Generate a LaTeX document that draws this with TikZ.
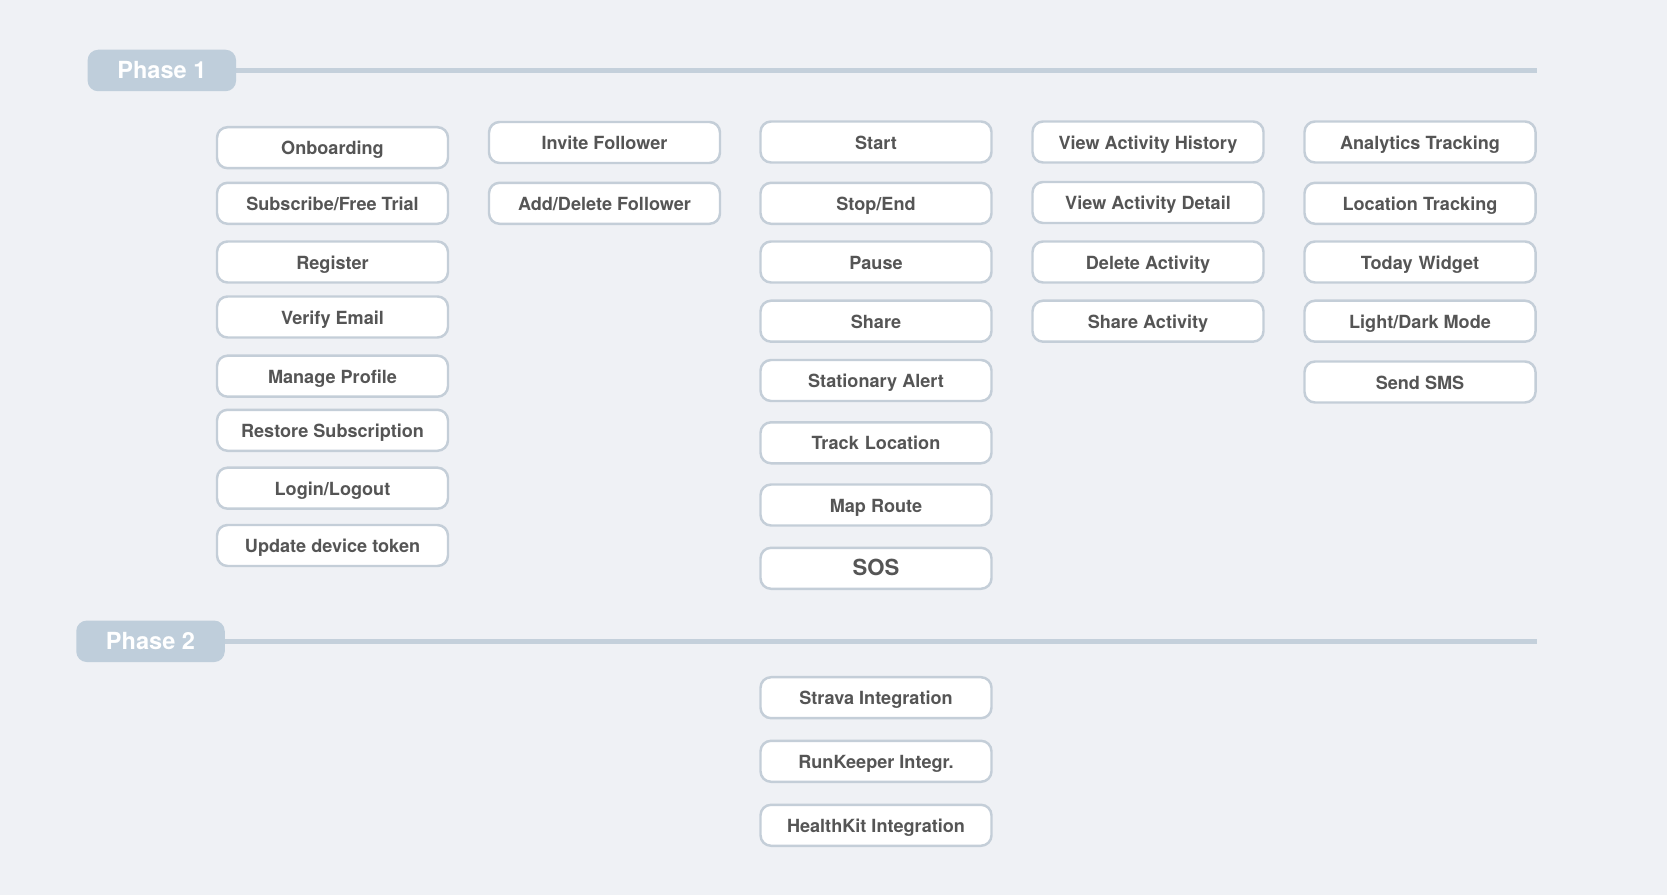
\documentclass[tikz,border=0pt]{standalone}
\usepackage{fontspec}
\setmainfont{TeX Gyre Heros}
\usepackage{xcolor}
\usetikzlibrary{positioning}
\definecolor{PageBg}{HTML}{EFF1F5}
\definecolor{PhaseFill}{HTML}{BFCEDB}
\definecolor{PhaseRule}{HTML}{C4D0DB}
\definecolor{BoxEdge}{HTML}{C4CED8}
\definecolor{BoxText}{HTML}{555555}
\tikzset{
  featbox/.style={rounded corners=6pt,draw=BoxEdge,line width=1.4pt,fill=white,minimum width=4.62cm,minimum height=0.82cm,inner sep=0pt,text height=0.8em,text depth=0pt,text=BoxText,font=\fontsize{10.3}{12}\selectfont\bfseries},
  phasetag/.style={rounded corners=6pt,fill=PhaseFill,minimum width=2.97cm,minimum height=0.83cm,inner sep=0pt,text height=0.88em,text depth=0pt,text=white,font=\fontsize{13.4}{15}\selectfont\bfseries},
  phaserule/.style={draw=PhaseRule,line width=2.8pt}
}
\newcommand{\featbox}[3]{\node[featbox] (#1) at (#2) {#3};}

\begin{document}
\begin{tikzpicture}[x=1cm,y=1cm]
  \fill[PageBg] (0,0) rectangle (33.34,17.9);
  \useasboundingbox (0,0) rectangle (33.34,17.9);
  % phase headers
  \coordinate (ruleendA) at (30.73,16.49);
  \coordinate (ruleendB) at (30.73,5.066);
  \draw[phaserule] (3.237,16.49) -- (ruleendA);
  \draw[phaserule] (3.01,5.066) -- (ruleendB);
  \node[phasetag] (phaseA) at (3.237,16.49) {Phase 1};
  \node[phasetag] (phaseB) at (3.01,5.074) {Phase 2};
  % account
  \featbox{onboard}{6.65,14.946}{Onboarding}
  \featbox{subscribe}{6.65,13.834}{Subscribe/Free Trial}
  \featbox{register}{6.65,12.66}{Register}
  \featbox{verify}{6.65,11.56}{Verify Email}
  \featbox{profile}{6.65,10.376}{Manage Profile}
  \featbox{restore}{6.65,9.294}{Restore Subscription}
  \featbox{login}{6.65,8.136}{Login/Logout}
  \featbox{token}{6.65,6.99}{Update device token}
  % followers
  \featbox{invite}{12.09,15.05}{Invite Follower}
  \featbox{follower}{12.09,13.834}{Add/Delete Follower}
  % activity
  \featbox{start}{17.52,15.06}{Start}
  \featbox{stop}{17.52,13.834}{Stop/End}
  \featbox{pause}{17.52,12.66}{Pause}
  \featbox{share}{17.52,11.476}{Share}
  \featbox{stationary}{17.52,10.29}{Stationary Alert}
  \featbox{track}{17.52,9.044}{Track\,\,Location}
  \featbox{route}{17.52,7.8}{Map Route}
  \node[featbox,font=\fontsize{12.6}{14}\selectfont\bfseries] (sos) at (17.52,6.534) {SOS};
  % history
  \featbox{history}{22.96,15.06}{View Activity History}
  \featbox{detail}{22.96,13.85}{View Activity Detail}
  \featbox{delete}{22.96,12.66}{Delete Activity}
  \featbox{shareact}{22.96,11.476}{Share Activity}
  % app
  \featbox{analytics}{28.40,15.06}{Analytics Tracking}
  \featbox{location}{28.40,13.834}{Location Tracking}
  \featbox{widget}{28.40,12.66}{Today\,\,Widget}
  \featbox{mode}{28.40,11.476}{Light/Dark Mode}
  \featbox{sms}{28.40,10.26}{Send SMS}
  % phase 2
  \featbox{strava}{17.52,3.946}{Strava Integration}
  \featbox{runkeeper}{17.52,2.674}{RunKeeper Integr.}
  \featbox{healthkit}{17.52,1.394}{HealthKit Integration}
\end{tikzpicture}
\end{document}
